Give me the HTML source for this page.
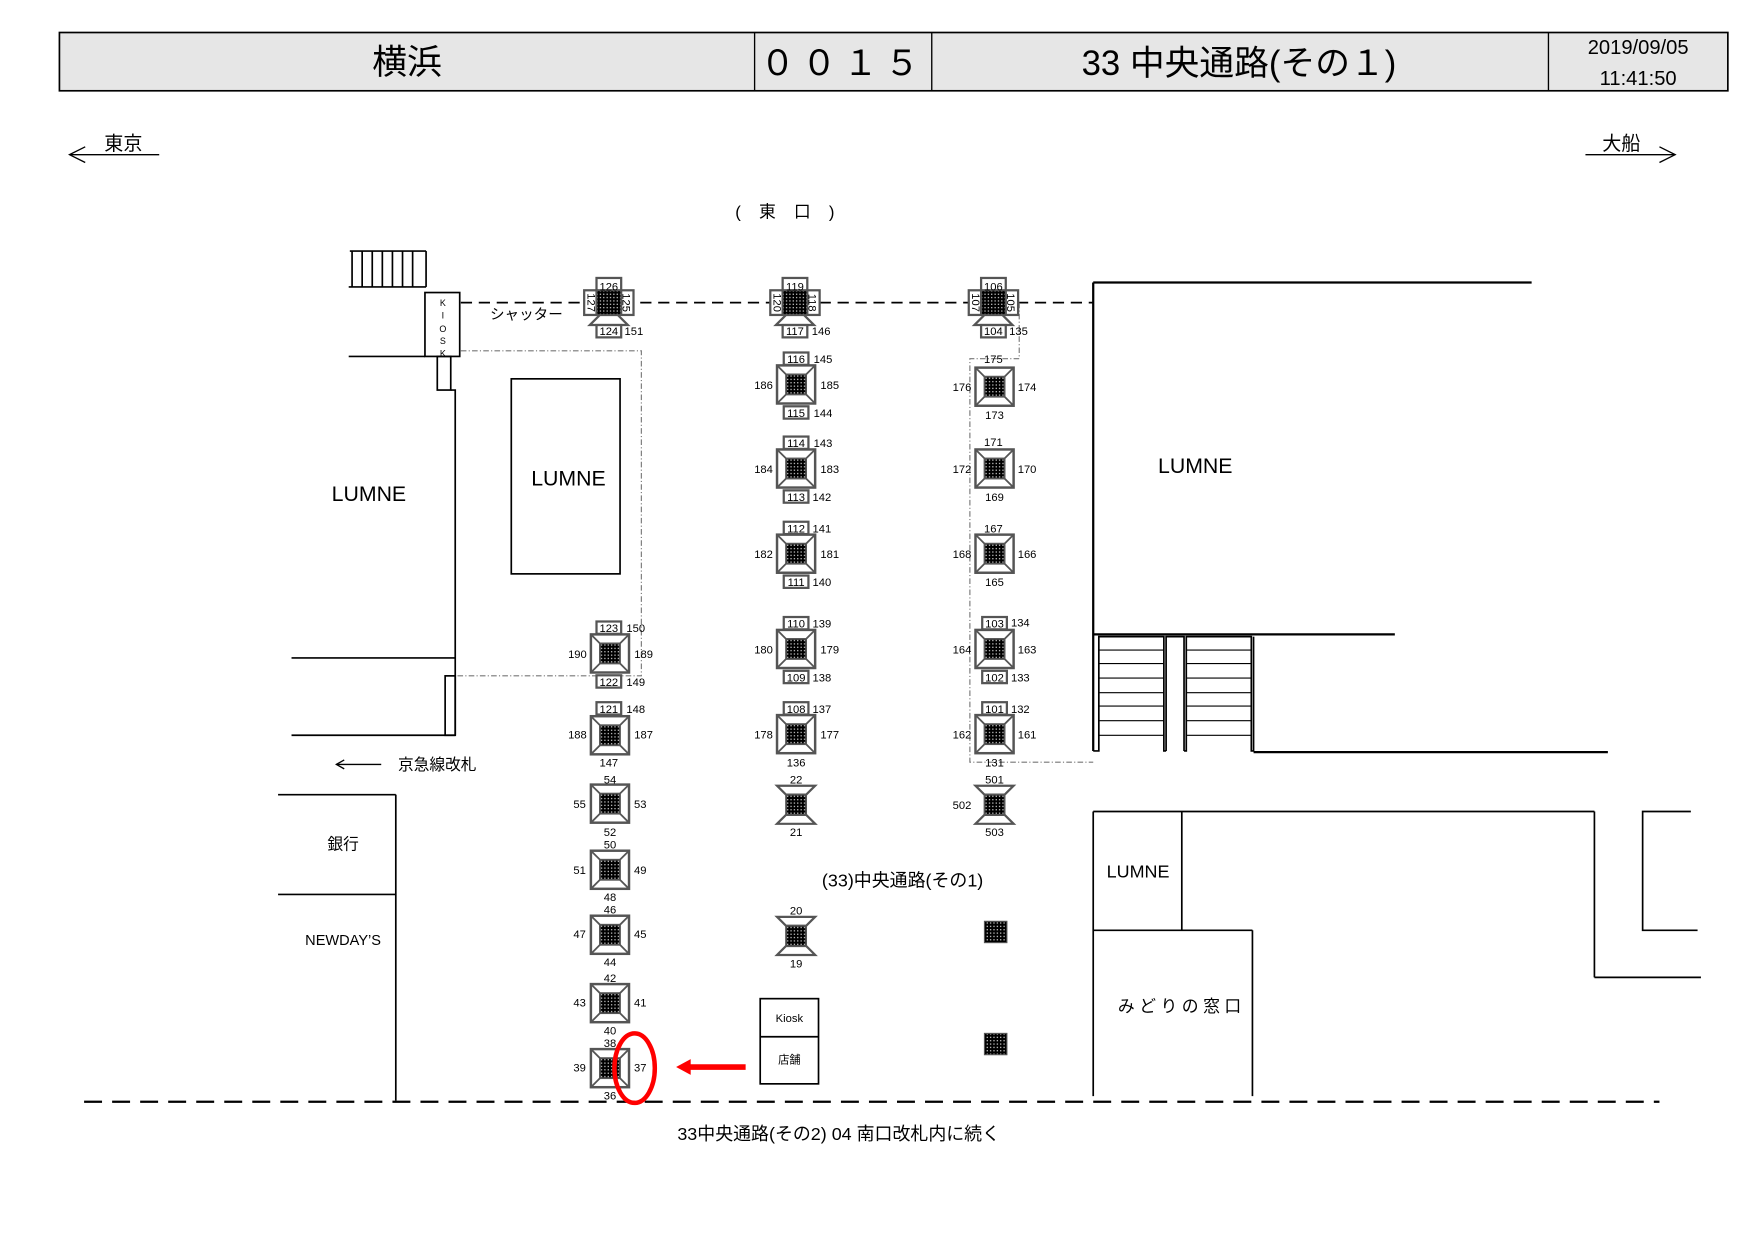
<!DOCTYPE html>
<html><head><meta charset="utf-8"><style>
html,body{margin:0;padding:0;background:#fff;}
svg{display:block;}
text{font-family:"Liberation Sans","Noto Sans CJK JP",sans-serif;fill:#000;}
.n{font-size:10px;text-anchor:middle;}
</style></head><body>
<svg width="1757" height="1243" viewBox="0 0 1567 1109" preserveAspectRatio="none" xmlns="http://www.w3.org/2000/svg">
<defs>
<pattern id="dots" width="3" height="3" patternUnits="userSpaceOnUse"><rect width="3" height="3" fill="#000"/><rect x="1" y="1" width="1" height="1" fill="#fff"/></pattern>
<g id="N"><rect x="-17" y="-17" width="34" height="34" fill="#fff" stroke="#555" stroke-width="2.2"/><line x1="-17" y1="-17" x2="-9" y2="-9" stroke="#555" stroke-width="1.6"/><line x1="17" y1="-17" x2="9" y2="-9" stroke="#555" stroke-width="1.6"/><line x1="-17" y1="17" x2="-9" y2="9" stroke="#555" stroke-width="1.6"/><line x1="17" y1="17" x2="9" y2="9" stroke="#555" stroke-width="1.6"/><rect x="-9" y="-9" width="18" height="18" fill="url(#dots)" stroke="#555" stroke-width="1.5"/></g>
<g id="H"><polygon points="-17,-17 17,-17 9,-9 -9,-9" fill="#fff" stroke="#555" stroke-width="2"/><polygon points="-17,17 17,17 9,9 -9,9" fill="#fff" stroke="#555" stroke-width="2"/><rect x="-9" y="-9" width="18" height="18" fill="url(#dots)" stroke="#555" stroke-width="1.5"/></g>
<g id="X"><polygon points="-8,11 8,11 17,20 -17,20" fill="#fff" stroke="#555" stroke-width="2"/><rect x="-11" y="-22" width="22" height="11" fill="#fff" stroke="#555" stroke-width="2"/><rect x="-22" y="-11" width="11" height="22" fill="#fff" stroke="#555" stroke-width="2"/><rect x="11" y="-11" width="11" height="22" fill="#fff" stroke="#555" stroke-width="2"/><rect x="-11" y="-11" width="22" height="22" fill="url(#dots)" stroke="#555" stroke-width="1.5"/><rect x="-11" y="20" width="22" height="11" fill="#fff" stroke="#555" stroke-width="2"/></g>
<rect id="B" x="-11" y="-5.5" width="22" height="11" fill="#fff" stroke="#555" stroke-width="2"/>
</defs>

<rect x="53" y="29" width="1488" height="52" fill="#e6e6e6" stroke="#000" stroke-width="1.5"/>
<line x1="673" y1="29" x2="673" y2="81" stroke="#000" stroke-width="1.2"/>
<line x1="831" y1="29" x2="831" y2="81" stroke="#000" stroke-width="1.2"/>
<line x1="1381" y1="29" x2="1381" y2="81" stroke="#000" stroke-width="1.2"/>
<text x="363" y="66" font-size="31" text-anchor="middle">横浜</text>
<text x="752" y="67" font-size="31" text-anchor="middle" letter-spacing="6">００１５</text>
<text x="1105" y="67" font-size="31" text-anchor="middle">33 中央通路(その１)</text>
<text x="1461" y="48" font-size="18" text-anchor="middle">2019/09/05</text>
<text x="1461" y="76" font-size="18" text-anchor="middle">11:41:50</text>

<text x="110" y="134" font-size="17" text-anchor="middle">東京</text>
<line x1="62" y1="138" x2="142" y2="138" stroke="#000" stroke-width="1.2"/>
<polyline points="76,131 62,138 76,145" fill="none" stroke="#000" stroke-width="1.2"/>
<text x="1446" y="134" font-size="17" text-anchor="middle">大船</text>
<line x1="1414" y1="138" x2="1494" y2="138" stroke="#000" stroke-width="1.2"/>
<polyline points="1480,131 1494,138 1480,145" fill="none" stroke="#000" stroke-width="1.2"/>
<text x="703" y="194" font-size="15" text-anchor="middle" letter-spacing="6">( 東 口 )</text>

<g stroke="#000" stroke-width="1.5" fill="none">
<line x1="312" y1="224" x2="380" y2="224"/>
<line x1="311" y1="256" x2="380" y2="256"/>
<line x1="380" y1="224" x2="380" y2="256"/>
<line x1="314" y1="224" x2="314" y2="256"/><line x1="323" y1="224" x2="323" y2="256"/><line x1="332" y1="224" x2="332" y2="256"/><line x1="341" y1="224" x2="341" y2="256"/><line x1="350" y1="224" x2="350" y2="256"/><line x1="359" y1="224" x2="359" y2="256"/><line x1="368" y1="224" x2="368" y2="256"/>
<rect x="379" y="261" width="31" height="57" fill="#fff"/>
<line x1="311" y1="318" x2="379" y2="318"/>
<rect x="390" y="318" width="12" height="30"/>
<polyline points="402,348 406,348 406,656"/>
<line x1="260" y1="587" x2="406" y2="587"/>
<line x1="260" y1="656" x2="406" y2="656"/>
<rect x="397" y="603" width="9" height="53"/>
<rect x="456" y="338" width="97" height="174"/>
<line x1="248" y1="709" x2="353" y2="709"/>
<line x1="353" y1="709" x2="353" y2="982"/>
<line x1="248" y1="798" x2="353" y2="798"/>
</g>
<g font-size="8" text-anchor="middle"><text x="395" y="273">K</text><text x="395" y="284">I</text><text x="395" y="296">O</text><text x="395" y="307">S</text><text x="395" y="318">K</text></g>
<g stroke="#777" stroke-width="1" fill="none" stroke-dasharray="5,2,1,2">
<polyline points="411,313 572,313 572,603 406,603"/>
</g>
<text x="329" y="447" font-size="19" text-anchor="middle">LUMNE</text>
<text x="507" y="433" font-size="19" text-anchor="middle">LUMNE</text>
<line x1="300" y1="682" x2="340" y2="682" stroke="#000" stroke-width="1.2"/>
<polyline points="307,678 300,682 307,686" fill="none" stroke="#000" stroke-width="1.2"/>
<text x="355" y="687" font-size="14">京急線改札</text>
<text x="306" y="758" font-size="14" text-anchor="middle">銀行</text>
<text x="306" y="843" font-size="13" text-anchor="middle">NEWDAY’S</text>

<line x1="411" y1="270" x2="975" y2="270" stroke="#000" stroke-width="1.5" stroke-dasharray="10,6"/>
<text x="437" y="285" font-size="13">シャッター</text>

<g stroke="#000" stroke-width="1.5" fill="none">
<line x1="975" y1="252" x2="1366" y2="252" stroke-width="2"/>
<line x1="975" y1="252" x2="975" y2="670" stroke-width="2"/>
<line x1="975" y1="566" x2="1244" y2="566" stroke-width="2"/>
<line x1="1118" y1="671" x2="1434" y2="671" stroke-width="2"/>
<polyline points="975,670 980,670 980,568 1038,568 1038,670 1040,670"/>
<polyline points="1040,670 1040,568 1056,568 1056,670"/>
<polyline points="1056,670 1058,670 1058,568 1116,568 1116,670 1118,670 1118,568"/>
</g>
<g stroke="#000" stroke-width="1">
<line x1="980" y1="580" x2="1038" y2="580"/><line x1="980" y1="592" x2="1038" y2="592"/><line x1="980" y1="605" x2="1038" y2="605"/><line x1="980" y1="618" x2="1038" y2="618"/><line x1="980" y1="630" x2="1038" y2="630"/><line x1="980" y1="643" x2="1038" y2="643"/><line x1="980" y1="656" x2="1038" y2="656"/>
<line x1="1058" y1="580" x2="1116" y2="580"/><line x1="1058" y1="592" x2="1116" y2="592"/><line x1="1058" y1="605" x2="1116" y2="605"/><line x1="1058" y1="618" x2="1116" y2="618"/><line x1="1058" y1="630" x2="1116" y2="630"/><line x1="1058" y1="643" x2="1116" y2="643"/><line x1="1058" y1="656" x2="1116" y2="656"/>
</g>
<text x="1066" y="422" font-size="19" text-anchor="middle">LUMNE</text>
<g stroke="#777" stroke-width="1" fill="none" stroke-dasharray="5,2,1,2">
<polyline points="909,270 909,320 865,320 865,680 975,680"/>
</g>

<g stroke="#000" stroke-width="1.5" fill="none">
<line x1="975" y1="724" x2="1422" y2="724"/>
<line x1="975" y1="724" x2="975" y2="978"/>
<line x1="1054" y1="724" x2="1054" y2="830"/>
<line x1="975" y1="830" x2="1117" y2="830"/>
<line x1="1117" y1="830" x2="1117" y2="978"/>
<line x1="1422" y1="724" x2="1422" y2="872"/>
<line x1="1422" y1="872" x2="1517" y2="872"/>
<polyline points="1508,724 1465,724 1465,830 1514,830"/>
</g>
<text x="1015" y="783" font-size="16" text-anchor="middle">LUMNE</text>
<text x="1054" y="903" font-size="15" text-anchor="middle" letter-spacing="4">みどりの窓口</text>

<rect x="678" y="891" width="52" height="76" fill="#fff" stroke="#000" stroke-width="1.5"/>
<line x1="678" y1="925" x2="730" y2="925" stroke="#000" stroke-width="1.5"/>
<text x="704" y="912" font-size="10" text-anchor="middle">Kiosk</text>
<text x="704" y="949" font-size="10" text-anchor="middle">店舗</text>

<text x="805" y="791" font-size="16" text-anchor="middle">(33)中央通路(その1)</text>

<line x1="75" y1="983" x2="1480" y2="983" stroke="#000" stroke-width="2" stroke-dasharray="16,9"/>
<text x="748" y="1017" font-size="16" text-anchor="middle">33中央通路(その2)  04 南口改札内に続く</text>

<g transform="translate(543,270)"><use href="#X"/></g>
<g transform="translate(709,270)"><use href="#X"/></g>
<g transform="translate(886,270)"><use href="#X"/></g>
<g class="n">
<text x="543" y="259">126</text><text x="543" y="299">124</text><text x="557" y="299" text-anchor="start">151</text>
<text x="709" y="259">119</text><text x="709" y="299">117</text><text x="724" y="299" text-anchor="start">146</text>
<text x="886" y="259">106</text><text x="886" y="299">104</text><text x="900" y="299" text-anchor="start">135</text>
<text transform="translate(528,270) rotate(90)" y="4">127</text><text transform="translate(559,270) rotate(90)" y="4">125</text>
<text transform="translate(694,270) rotate(90)" y="4">120</text><text transform="translate(725,270) rotate(90)" y="4">118</text>
<text transform="translate(871,270) rotate(90)" y="4">107</text><text transform="translate(902,270) rotate(90)" y="4">105</text>
</g>

<g>
<use href="#N" x="710" y="343"/><use href="#B" x="710" y="320"/><use href="#B" x="710" y="368"/>
<use href="#N" x="710" y="418"/><use href="#B" x="710" y="395"/><use href="#B" x="710" y="443"/>
<use href="#N" x="710" y="494"/><use href="#B" x="710" y="471"/><use href="#B" x="710" y="519"/>
<use href="#N" x="710" y="579"/><use href="#B" x="710" y="556"/><use href="#B" x="710" y="604"/>
<use href="#N" x="710" y="655"/><use href="#B" x="710" y="632"/>
<use href="#H" x="710" y="718"/>
<use href="#H" x="710" y="835"/>
</g>
<g class="n">
<text x="710" y="324">116</text><text x="734" y="324">145</text><text x="681" y="347">186</text><text x="740" y="347">185</text><text x="710" y="372">115</text><text x="734" y="372">144</text>
<text x="710" y="399">114</text><text x="734" y="399">143</text><text x="681" y="422">184</text><text x="740" y="422">183</text><text x="710" y="447">113</text><text x="733" y="447">142</text>
<text x="710" y="475">112</text><text x="733" y="475">141</text><text x="681" y="498">182</text><text x="740" y="498">181</text><text x="710" y="523">111</text><text x="733" y="523">140</text>
<text x="710" y="560">110</text><text x="733" y="560">139</text><text x="681" y="583">180</text><text x="740" y="583">179</text><text x="710" y="608">109</text><text x="733" y="608">138</text>
<text x="710" y="636">108</text><text x="733" y="636">137</text><text x="681" y="659">178</text><text x="740" y="659">177</text><text x="710" y="684">136</text>
<text x="710" y="699">22</text><text x="710" y="746">21</text>
<text x="710" y="816">20</text><text x="710" y="863">19</text>
</g>

<g>
<use href="#N" x="887" y="345"/>
<use href="#N" x="887" y="418"/>
<use href="#N" x="887" y="494"/>
<use href="#N" x="887" y="579"/><use href="#B" x="887" y="556"/><use href="#B" x="887" y="604"/>
<use href="#N" x="887" y="655"/><use href="#B" x="887" y="632"/>
<use href="#H" x="887" y="718"/>
<rect x="878" y="822" width="20" height="19" fill="url(#dots)" stroke="#555" stroke-width="1"/>
<rect x="878" y="922" width="20" height="19" fill="url(#dots)" stroke="#555" stroke-width="1"/>
</g>
<g class="n">
<text x="886" y="324">175</text><text x="858" y="349">176</text><text x="916" y="349">174</text><text x="887" y="374">173</text>
<text x="886" y="398">171</text><text x="858" y="422">172</text><text x="916" y="422">170</text><text x="887" y="447">169</text>
<text x="886" y="475">167</text><text x="858" y="498">168</text><text x="916" y="498">166</text><text x="887" y="523">165</text>
<text x="887" y="560">103</text><text x="910" y="559">134</text><text x="858" y="583">164</text><text x="916" y="583">163</text><text x="887" y="608">102</text><text x="910" y="608">133</text>
<text x="887" y="636">101</text><text x="910" y="636">132</text><text x="858" y="659">162</text><text x="916" y="659">161</text><text x="887" y="684">131</text>
<text x="887" y="699">501</text><text x="858" y="722">502</text><text x="887" y="746">503</text>
</g>

<g>
<use href="#N" x="544" y="583"/><use href="#B" x="543" y="560"/><use href="#B" x="543" y="608"/>
<use href="#N" x="544" y="656"/><use href="#B" x="543" y="632"/>
<use href="#N" x="544" y="717"/>
<use href="#N" x="544" y="776"/>
<use href="#N" x="544" y="834"/>
<use href="#N" x="544" y="895"/>
<use href="#N" x="544" y="953"/>
</g>
<g class="n">
<text x="543" y="564">123</text><text x="567" y="564">150</text><text x="515" y="587">190</text><text x="574" y="587">189</text><text x="543" y="612">122</text><text x="567" y="612">149</text>
<text x="543" y="636">121</text><text x="567" y="636">148</text><text x="515" y="659">188</text><text x="574" y="659">187</text><text x="543" y="684">147</text>
<text x="544" y="699">54</text><text x="517" y="721">55</text><text x="571" y="721">53</text><text x="544" y="746">52</text>
<text x="544" y="757">50</text><text x="517" y="780">51</text><text x="571" y="780">49</text><text x="544" y="804">48</text>
<text x="544" y="815">46</text><text x="517" y="837">47</text><text x="571" y="837">45</text><text x="544" y="862">44</text>
<text x="544" y="876">42</text><text x="517" y="898">43</text><text x="571" y="898">41</text><text x="544" y="923">40</text>
<text x="544" y="934">38</text><text x="517" y="956">39</text><text x="571" y="956">37</text><text x="544" y="981">36</text>
</g>

<ellipse cx="566" cy="953" rx="18" ry="31" fill="none" stroke="#f00" stroke-width="4"/>
<line x1="665" y1="952" x2="614" y2="952" stroke="#f00" stroke-width="5"/>
<polygon points="603,952 616,945 616,959" fill="#f00"/>
</svg>
</body></html>
